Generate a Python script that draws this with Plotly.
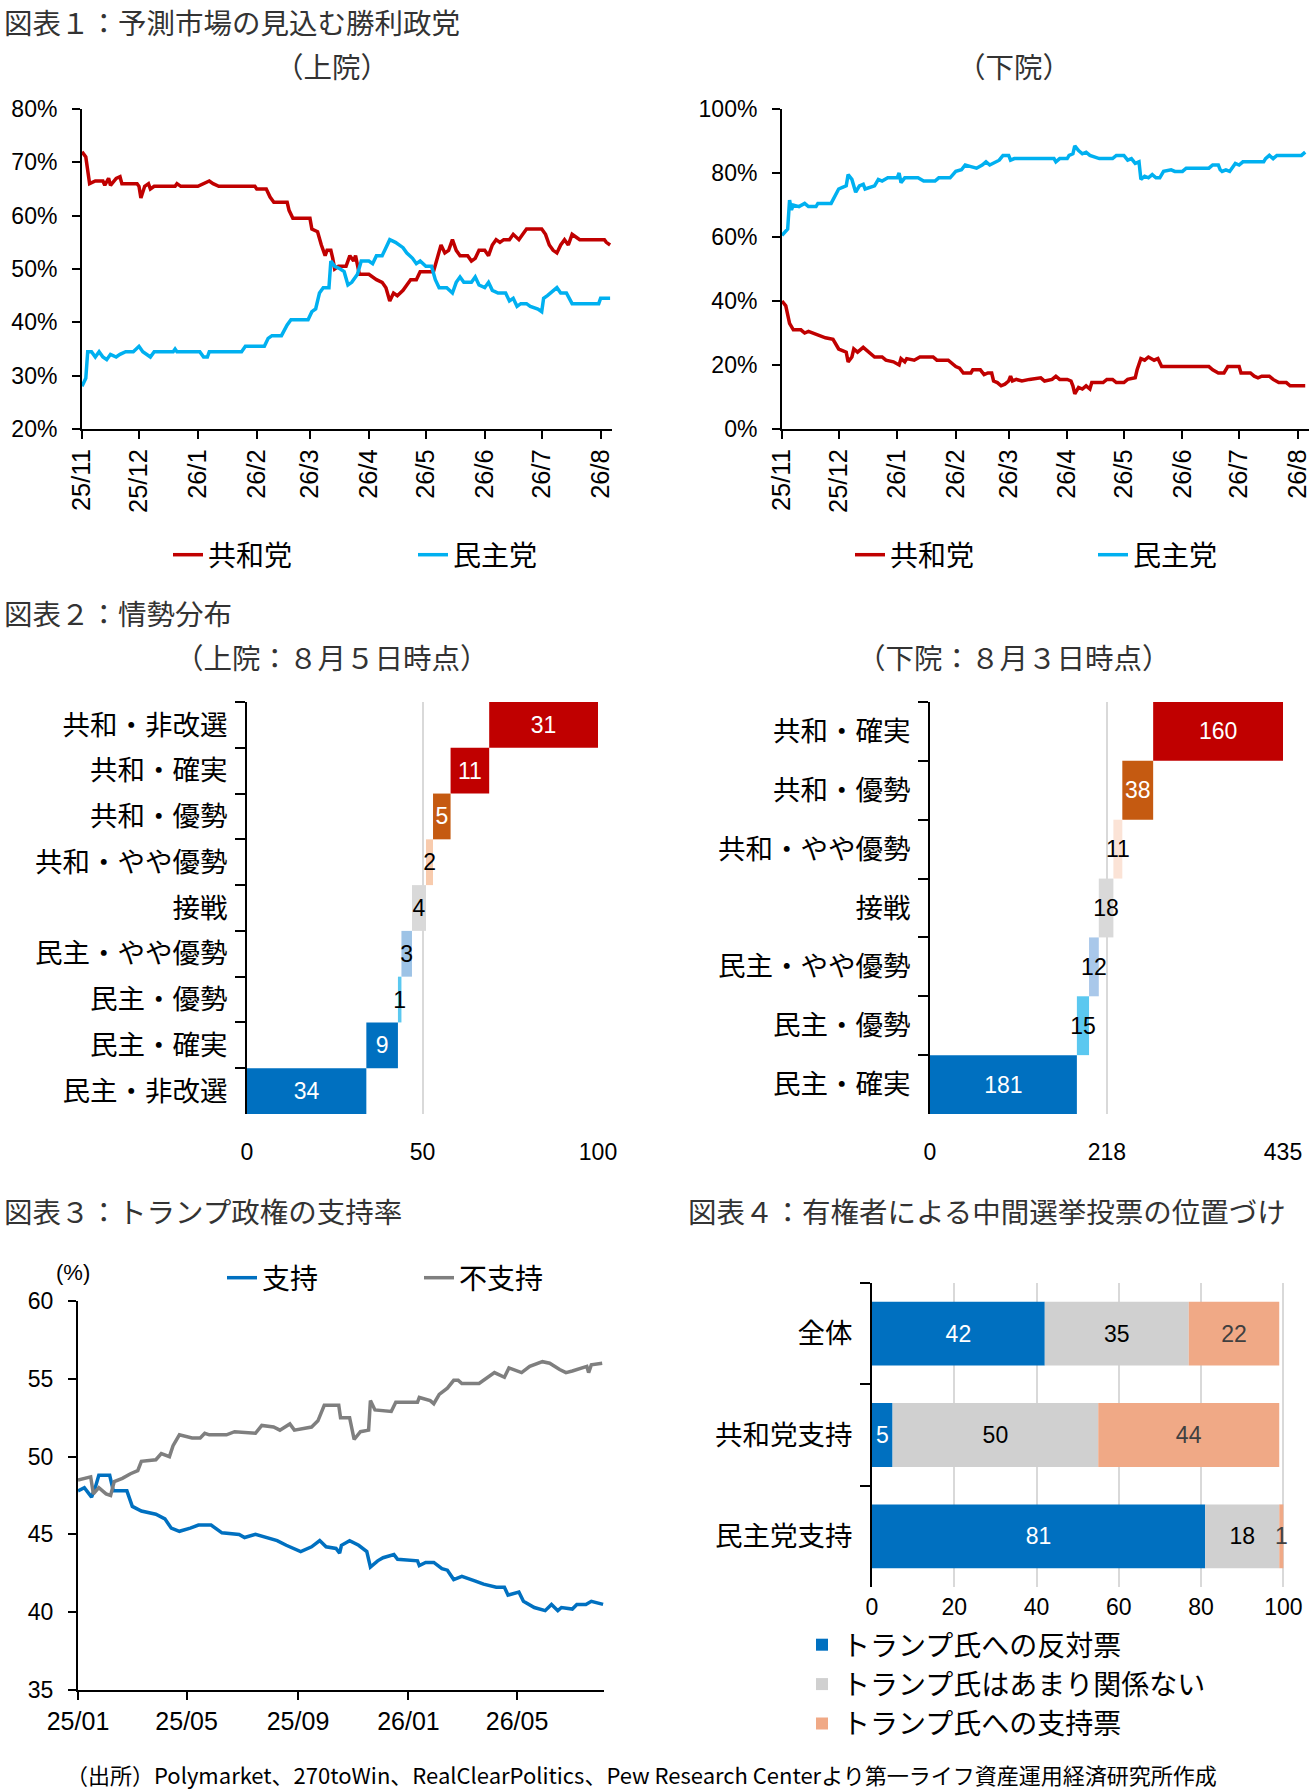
import numpy as np
import plotly.graph_objects as go

W, H = 1315, 1792

# ---------------- data ----------------
# chart 1 left : senate (prediction market, %)
senate_rep_dates = [
    "2025-11-01", "2025-11-02", "2025-11-03", "2025-11-05", "2025-11-08", "2025-11-12", "2025-11-13",
    "2025-11-15", "2025-11-16", "2025-11-19", "2025-11-21", "2025-11-22", "2025-11-30", "2025-12-01",
    "2025-12-02", "2025-12-04", "2025-12-06", "2025-12-07", "2025-12-09", "2025-12-20", "2025-12-21",
    "2025-12-23", "2026-01-01", "2026-01-07", "2026-01-09", "2026-01-12", "2026-01-31", "2026-02-01",
    "2026-02-06", "2026-02-08", "2026-02-10", "2026-02-17", "2026-02-18", "2026-02-20", "2026-03-01",
    "2026-03-02", "2026-03-05", "2026-03-07", "2026-03-09", "2026-03-10", "2026-03-12", "2026-03-13",
    "2026-03-14", "2026-03-16", "2026-03-20", "2026-03-22", "2026-03-24", "2026-03-25", "2026-03-27",
    "2026-04-01", "2026-04-05", "2026-04-08", "2026-04-10", "2026-04-12", "2026-04-14", "2026-04-16",
    "2026-04-19", "2026-04-21", "2026-04-23", "2026-04-26", "2026-04-28", "2026-05-05", "2026-05-07",
    "2026-05-09", "2026-05-11", "2026-05-13", "2026-05-15", "2026-05-17", "2026-05-19", "2026-05-23",
    "2026-05-25", "2026-05-27", "2026-05-29", "2026-06-01", "2026-06-03", "2026-06-05", "2026-06-07",
    "2026-06-09", "2026-06-11", "2026-06-14", "2026-06-16", "2026-06-19", "2026-06-21", "2026-06-23",
    "2026-06-29", "2026-07-01", "2026-07-03", "2026-07-05", "2026-07-07", "2026-07-09", "2026-07-11",
    "2026-07-13", "2026-07-15", "2026-07-17", "2026-07-19", "2026-07-21", "2026-08-03", "2026-08-04",
    "2026-08-06",
]
senate_rep = [
    72, 71.5, 71, 66, 66.5, 66.5, 65.7,
    67, 65.7, 67, 67.3, 66, 66, 65.5,
    63.3, 65.5, 66, 65, 65.5, 65.5, 66,
    65.5, 65.5, 66.5, 66, 65.5, 65.5, 65,
    65, 63.5, 62.5, 62.5, 61, 59.5, 59.5,
    57.5, 57, 54.5, 52.5, 53.5, 53.5, 52,
    50, 50.5, 50.5, 52.5, 51.5, 52.5, 49,
    49, 48, 47.5, 46.5, 44, 45.5, 45,
    46, 47, 48, 48, 49.5, 49.5, 52,
    54.5, 53, 53.5, 55.5, 53.5, 52.5, 52.5,
    51.5, 52, 53.5, 53.5, 52.5, 54.5, 55.5,
    55, 55.5, 55.5, 56.5, 55.5, 56.5, 57.5,
    57.5, 57.5, 56.5, 54.5, 53.5, 53, 54.5,
    55.5, 54.5, 56.5, 56, 55.5, 55.5, 55,
    54.5,
]
senate_dem_dates = [
    "2025-11-01", "2025-11-03", "2025-11-04", "2025-11-06", "2025-11-08", "2025-11-10", "2025-11-12",
    "2025-11-14", "2025-11-16", "2025-11-19", "2025-11-21", "2025-11-24", "2025-11-28", "2025-12-01",
    "2025-12-03", "2025-12-05", "2025-12-07", "2025-12-09", "2025-12-19", "2025-12-20", "2025-12-21",
    "2026-01-02", "2026-01-04", "2026-01-06", "2026-01-07", "2026-01-24", "2026-01-26", "2026-02-05",
    "2026-02-07", "2026-02-09", "2026-02-14", "2026-02-17", "2026-02-19", "2026-02-28", "2026-03-02",
    "2026-03-04", "2026-03-06", "2026-03-08", "2026-03-11", "2026-03-12", "2026-03-14", "2026-03-17",
    "2026-03-19", "2026-03-21", "2026-03-23", "2026-03-26", "2026-03-28", "2026-04-01", "2026-04-03",
    "2026-04-05", "2026-04-08", "2026-04-10", "2026-04-12", "2026-04-15", "2026-04-17", "2026-04-19",
    "2026-04-21", "2026-04-24", "2026-04-26", "2026-04-28", "2026-05-01", "2026-05-04", "2026-05-06",
    "2026-05-08", "2026-05-12", "2026-05-15", "2026-05-17", "2026-05-19", "2026-05-21", "2026-05-25",
    "2026-05-27", "2026-05-29", "2026-06-01", "2026-06-03", "2026-06-05", "2026-06-08", "2026-06-12",
    "2026-06-14", "2026-06-16", "2026-06-18", "2026-06-20", "2026-06-23", "2026-06-25", "2026-06-29",
    "2026-07-01", "2026-07-02", "2026-07-04", "2026-07-07", "2026-07-09", "2026-07-11", "2026-07-14",
    "2026-07-17", "2026-07-31", "2026-08-01", "2026-08-06",
]
senate_dem = [
    28, 29.5, 34.5, 34.5, 33.5, 34.5, 33.5,
    33, 34, 33.5, 34, 34.5, 34.5, 35.5,
    34.5, 34, 33.5, 34.5, 34.5, 35, 34.5,
    34.5, 33.5, 33.5, 34.5, 34.5, 35.5, 35.5,
    37, 37.5, 37.5, 39.5, 40.5, 40.5, 42,
    42.5, 45.5, 46.5, 46.5, 51.5, 50.5, 50,
    49.5, 47, 47.5, 49, 51.5, 51.5, 51,
    52.5, 52.5, 54, 55.5, 55, 54.5, 54,
    53, 52, 51, 51.5, 50.5, 50.5, 48,
    46.5, 46.5, 45.5, 47.5, 48.5, 47.5, 47.5,
    48.5, 47, 46.5, 47.5, 46, 45.5, 45.5,
    44, 44.5, 43, 43.5, 43.5, 43, 42.5,
    42, 44.5, 45, 46, 46.5, 45.5, 45.5,
    43.5, 43.5, 44.5, 44.5,
]

# chart 1 right : house (prediction market, %)
house_dem_dates = [
    "2025-11-01", "2025-11-03", "2025-11-04", "2025-11-05", "2025-11-06", "2025-11-07", "2025-11-10",
    "2025-11-13", "2025-11-15", "2025-11-19", "2025-11-20", "2025-11-27", "2025-11-29", "2025-12-01",
    "2025-12-03", "2025-12-05", "2025-12-06", "2025-12-08", "2025-12-10", "2025-12-12", "2025-12-14",
    "2025-12-15", "2025-12-20", "2025-12-22", "2025-12-24", "2025-12-27", "2026-01-01", "2026-01-02",
    "2026-01-03", "2026-01-05", "2026-01-12", "2026-01-15", "2026-01-21", "2026-01-23", "2026-01-29",
    "2026-02-01", "2026-02-04", "2026-02-06", "2026-02-09", "2026-02-12", "2026-02-15", "2026-02-17",
    "2026-02-19", "2026-02-22", "2026-02-24", "2026-02-26", "2026-03-01", "2026-03-02", "2026-03-04",
    "2026-03-25", "2026-03-26", "2026-03-28", "2026-04-01", "2026-04-02", "2026-04-04", "2026-04-05",
    "2026-04-07", "2026-04-09", "2026-04-11", "2026-04-13", "2026-04-16", "2026-04-18", "2026-04-25",
    "2026-04-27", "2026-05-01", "2026-05-03", "2026-05-05", "2026-05-07", "2026-05-09", "2026-05-10",
    "2026-05-12", "2026-05-14", "2026-05-16", "2026-05-18", "2026-05-20", "2026-05-22", "2026-05-26",
    "2026-05-28", "2026-06-01", "2026-06-03", "2026-06-15", "2026-06-17", "2026-06-20", "2026-06-21",
    "2026-06-22", "2026-06-24", "2026-06-26", "2026-06-29", "2026-07-01", "2026-07-03", "2026-07-14",
    "2026-07-15", "2026-07-17", "2026-07-19", "2026-07-21", "2026-08-03", "2026-08-05",
]
house_dem = [
    60.5, 62, 62.5, 71.5, 68.5, 70, 69.5,
    70.5, 69.5, 69.5, 70.5, 70.5, 72.5, 75,
    75.5, 76, 79.5, 78, 74, 76, 76.5,
    75, 76, 78, 77.5, 78.5, 78.5, 80,
    77, 78.5, 78.5, 77.5, 77.5, 78.5, 78.5,
    80.5, 81, 82.5, 82, 81.5, 82.5, 83.5,
    82.5, 83.5, 84, 85.5, 85.5, 84, 84.5,
    84.5, 83.5, 84.5, 84.5, 85.5, 86, 88.5,
    87, 86, 86.5, 85.5, 85, 84.5, 84.5,
    85.5, 85.5, 84, 84.5, 83, 83.5, 78,
    79, 78.5, 79.5, 78.5, 78.5, 80.5, 81,
    80.5, 80.5, 81.5, 81.5, 82.5, 82.5, 81,
    80.5, 81, 80.5, 83, 82.5, 83.5, 83.5,
    84.5, 85.5, 84.5, 85.5, 85.5, 86.5,
]
house_rep_dates = [
    "2025-11-01", "2025-11-03", "2025-11-05", "2025-11-07", "2025-11-11", "2025-11-13", "2025-11-15",
    "2025-11-17", "2025-11-20", "2025-11-24", "2025-11-28", "2025-12-01", "2025-12-03", "2025-12-05",
    "2025-12-06", "2025-12-08", "2025-12-09", "2025-12-11", "2025-12-14", "2025-12-16", "2025-12-18",
    "2025-12-20", "2025-12-24", "2025-12-26", "2025-12-30", "2026-01-01", "2026-01-02", "2026-01-03",
    "2026-01-05", "2026-01-06", "2026-01-10", "2026-01-13", "2026-01-20", "2026-01-22", "2026-01-28",
    "2026-02-01", "2026-02-03", "2026-02-05", "2026-02-09", "2026-02-10", "2026-02-14", "2026-02-16",
    "2026-02-18", "2026-02-20", "2026-02-21", "2026-02-23", "2026-02-25", "2026-02-27", "2026-03-01",
    "2026-03-02", "2026-03-03", "2026-03-05", "2026-03-08", "2026-03-12", "2026-03-18", "2026-03-20",
    "2026-03-24", "2026-03-26", "2026-03-28", "2026-04-01", "2026-04-03", "2026-04-04", "2026-04-05",
    "2026-04-07", "2026-04-09", "2026-04-11", "2026-04-13", "2026-04-14", "2026-04-20", "2026-04-22",
    "2026-04-25", "2026-04-27", "2026-05-01", "2026-05-03", "2026-05-07", "2026-05-08", "2026-05-10",
    "2026-05-12", "2026-05-14", "2026-05-17", "2026-05-19", "2026-05-21", "2026-06-15", "2026-06-17",
    "2026-06-20", "2026-06-23", "2026-06-25", "2026-07-01", "2026-07-02", "2026-07-07", "2026-07-09",
    "2026-07-11", "2026-07-13", "2026-07-17", "2026-07-19", "2026-07-22", "2026-07-26", "2026-07-28",
    "2026-08-05",
]
house_rep = [
    40, 38.5, 33, 31, 31, 30, 30.5,
    30, 29.5, 28.5, 28, 25, 24.5, 24,
    21, 22.5, 25, 24, 25.5, 24.5, 23.5,
    22.5, 22.5, 21.5, 21, 20.5, 20, 22,
    21, 22, 21.5, 22.5, 22.5, 21.5, 21.5,
    19.5, 19, 17.5, 17.5, 18.5, 18.5, 17,
    17.5, 17.5, 15, 14.5, 13.5, 14, 15,
    16.5, 15, 15.5, 15, 15.5, 16, 15,
    15.5, 16.5, 15.5, 15.5, 15, 13.5, 11,
    13, 12.5, 13.5, 12.5, 14.5, 14.5, 15.5,
    15.5, 14.5, 14.5, 15.5, 16, 18.5, 22,
    21.5, 22.5, 21.5, 22, 19.5, 19.5, 18.5,
    17.5, 17.5, 19.5, 19.5, 17.5, 17.5, 16.5,
    16, 16.5, 16.5, 15.5, 14.5, 14.5, 13.5,
    13.5,
]
market_ticks = ["2025-11-01", "2025-12-01", "2026-01-01", "2026-02-01", "2026-03-01",
                "2026-04-01", "2026-05-01", "2026-06-01", "2026-07-01", "2026-08-01"]
market_labels = ["25/11", "25/12", "26/1", "26/2", "26/3", "26/4", "26/5", "26/6", "26/7", "26/8"]

# chart 2 : race ratings (top to bottom)
senate_cats = ["共和・非改選", "共和・確実", "共和・優勢", "共和・やや優勢", "接戦",
               "民主・やや優勢", "民主・優勢", "民主・確実", "民主・非改選"]
senate_seats = [31, 11, 5, 2, 4, 3, 1, 9, 34]
house_cats = ["共和・確実", "共和・優勢", "共和・やや優勢", "接戦",
              "民主・やや優勢", "民主・優勢", "民主・確実"]
house_seats = [160, 38, 11, 18, 12, 15, 181]

# chart 3 : Trump approval (%)
approve_dates = [
    "2025-01-01", "2025-01-08", "2025-01-16", "2025-01-20", "2025-01-24", "2025-02-05", "2025-02-09",
    "2025-02-24", "2025-03-02", "2025-03-12", "2025-03-28", "2025-04-07", "2025-04-14", "2025-04-23",
    "2025-05-05", "2025-05-14", "2025-05-28", "2025-06-09", "2025-06-28", "2025-07-04", "2025-07-16",
    "2025-07-28", "2025-08-09", "2025-08-19", "2025-09-04", "2025-09-16", "2025-09-25", "2025-10-02",
    "2025-10-13", "2025-10-17", "2025-10-19", "2025-10-28", "2025-11-07", "2025-11-16", "2025-11-20",
    "2025-11-28", "2025-12-04", "2025-12-16", "2025-12-20", "2026-01-11", "2026-01-13", "2026-01-20",
    "2026-01-29", "2026-02-07", "2026-02-13", "2026-02-20", "2026-03-01", "2026-03-16", "2026-03-25",
    "2026-04-08", "2026-04-17", "2026-04-21", "2026-05-03", "2026-05-08", "2026-05-20", "2026-06-01",
    "2026-06-08", "2026-06-15", "2026-06-19", "2026-07-01", "2026-07-06", "2026-07-16", "2026-07-22",
    "2026-08-04",
]
approve = [
    47.8, 48.0, 47.4, 48.0, 48.8, 48.8, 47.8,
    47.8, 46.8, 46.5, 46.3, 46.0, 45.4, 45.2,
    45.4, 45.6, 45.6, 45.1, 45.0, 44.8, 45.0,
    44.8, 44.6, 44.3, 43.9, 44.2, 44.6, 44.2,
    44.1, 43.8, 44.3, 44.6, 44.3, 43.9, 42.9,
    43.3, 43.5, 43.7, 43.4, 43.3, 43.0, 43.2,
    43.2, 42.8, 42.7, 42.1, 42.3, 42.0, 41.8,
    41.6, 41.6, 41.1, 41.3, 40.7, 40.3, 40.1,
    40.5, 40.1, 40.3, 40.2, 40.5, 40.5, 40.7,
    40.5,
]
disapprove_dates = [
    "2025-01-01", "2025-01-15", "2025-01-18", "2025-01-24", "2025-02-01", "2025-02-06", "2025-02-10",
    "2025-02-19", "2025-02-28", "2025-03-08", "2025-03-12", "2025-03-28", "2025-04-03", "2025-04-12",
    "2025-04-16", "2025-04-23", "2025-05-07", "2025-05-16", "2025-05-21", "2025-05-26", "2025-06-14",
    "2025-06-23", "2025-07-16", "2025-07-23", "2025-08-05", "2025-08-12", "2025-08-23", "2025-08-28",
    "2025-09-16", "2025-09-23", "2025-09-30", "2025-10-16", "2025-10-18", "2025-10-28", "2025-11-02",
    "2025-11-09", "2025-11-18", "2025-11-20", "2025-11-25", "2025-12-13", "2025-12-18", "2026-01-11",
    "2026-01-13", "2026-01-25", "2026-01-29", "2026-02-04", "2026-02-13", "2026-02-20", "2026-02-25",
    "2026-03-01", "2026-03-20", "2026-03-29", "2026-04-06", "2026-04-17", "2026-04-22", "2026-05-06",
    "2026-05-15", "2026-05-29", "2026-06-06", "2026-06-17", "2026-06-24", "2026-07-01", "2026-07-10",
    "2026-07-17", "2026-07-19", "2026-07-22", "2026-08-03",
]
disapprove = [
    48.5, 48.7, 47.6, 48.0, 47.6, 47.5, 48.4,
    48.6, 48.9, 49.1, 49.7, 49.8, 50.2, 50.0,
    50.7, 51.4, 51.2, 51.2, 51.5, 51.4, 51.4,
    51.6, 51.5, 52.0, 51.9, 51.7, 52.1, 51.7,
    51.9, 52.3, 53.3, 53.3, 52.5, 52.5, 51.1,
    51.6, 51.7, 53.6, 53.0, 52.9, 53.5, 53.5,
    53.8, 53.6, 53.4, 54.0, 54.4, 54.9, 54.9,
    54.7, 54.7, 55.1, 55.4, 55.1, 55.7, 55.4,
    55.8, 56.1, 56.0, 55.6, 55.4, 55.5, 55.7,
    55.8, 55.4, 55.9, 56.0,
]
approval_ticks = ["2025-01-01", "2025-05-01", "2025-09-01", "2026-01-01", "2026-05-01"]
approval_labels = ["25/01", "25/05", "25/09", "26/01", "26/05"]

# chart 4 : midterm vote and Trump (%)
vote_groups = ["全体", "共和党支持", "民主党支持"]
vote_against = [42, 5, 81]
vote_neutral = [35, 50, 18]
vote_for = [22, 44, 1]

# ---------------- style ----------------
RED, CYAN = "#C00000", "#00B0F0"
BLUE, GRAY = "#0070C0", "#7F7F7F"
SANS = "Liberation Sans, Arial, Noto Sans CJK JP"
JP = "Noto Sans CJK JP"
LW = 3.5

senate_colors = ["#C00000", "#C00000", "#C55A11", "#F8CBAD", "#D9D9D9",
                 "#9DC3E6", "#5BC8F0", "#0070C0", "#0070C0"]
senate_text = ["white", "white", "white", "black", "black", "black", "black", "white", "white"]
house_colors = ["#C00000", "#C55A11", "#FBE3D6", "#D9D9D9", "#A9C8EA", "#5BC8F0", "#0070C0"]
house_text = ["white", "white", "black", "black", "black", "black", "white"]


def dx(a, b):
    return [a / W, b / W]


def dy(top, bottom):
    return [1 - bottom / H, 1 - top / H]


fig = go.Figure()

# chart 1
fig.add_trace(go.Scatter(x=senate_rep_dates, y=senate_rep, mode="lines", name="共和党",
                         line=dict(color=RED, width=LW), xaxis="x", yaxis="y", legend="legend"))
fig.add_trace(go.Scatter(x=senate_dem_dates, y=senate_dem, mode="lines", name="民主党",
                         line=dict(color=CYAN, width=LW), xaxis="x", yaxis="y", legend="legend"))
fig.add_trace(go.Scatter(x=house_rep_dates, y=house_rep, mode="lines", name="共和党",
                         line=dict(color=RED, width=LW), xaxis="x2", yaxis="y2", legend="legend2"))
fig.add_trace(go.Scatter(x=house_dem_dates, y=house_dem, mode="lines", name="民主党",
                         line=dict(color=CYAN, width=LW), xaxis="x2", yaxis="y2", legend="legend2"))


# chart 2 (waterfall built from bars with a base)
def waterfall(cats, seats, colors, tcolors, xa, ya):
    s = np.array(seats)
    base = np.concatenate(([0], np.cumsum(s[::-1])[:-1]))[::-1]
    fig.add_trace(go.Bar(y=cats, x=seats, base=base, orientation="h", width=1.0,
                         marker=dict(color=colors, line=dict(width=0)),
                         text=[str(v) for v in seats], textposition="inside",
                         insidetextanchor="middle", textangle=0,
                         textfont=dict(color=tcolors, size=23, family=SANS),
                         cliponaxis=False, showlegend=False, xaxis=xa, yaxis=ya))


waterfall(senate_cats, senate_seats, senate_colors, senate_text, "x3", "y3")
waterfall(house_cats, house_seats, house_colors, house_text, "x4", "y4")

# chart 3
fig.add_trace(go.Scatter(x=approve_dates, y=approve, mode="lines", name="支持",
                         line=dict(color=BLUE, width=LW), xaxis="x5", yaxis="y5", legend="legend3"))
fig.add_trace(go.Scatter(x=disapprove_dates, y=disapprove, mode="lines", name="不支持",
                         line=dict(color=GRAY, width=LW), xaxis="x5", yaxis="y5", legend="legend3"))

# chart 4 (stacked bars)
b1 = np.array(vote_against)
b2 = b1 + np.array(vote_neutral)
for vals, base, name, col, tc in [
    (vote_against, np.zeros(3), "トランプ氏への反対票", "#0070C0", "white"),
    (vote_neutral, b1, "トランプ氏はあまり関係ない", "#D0D0D0", "black"),
    (vote_for, b2, "トランプ氏への支持票", "#F0A986", "#404040"),
]:
    fig.add_trace(go.Bar(y=vote_groups, x=vals, base=base, orientation="h", width=0.63, name=name,
                         marker=dict(color=col, line=dict(width=0)),
                         text=[str(v) for v in vals], textposition="inside",
                         insidetextanchor="middle", textangle=0,
                         textfont=dict(color=tc, size=23, family=SANS),
                         cliponaxis=False, xaxis="x6", yaxis="y6", legend="legend4"))

axis_base = dict(showline=True, linecolor="black", linewidth=2, ticks="outside", ticklen=8,
                 tickwidth=2, tickcolor="black", showgrid=False, zeroline=False, automargin=False,
                 tickfont=dict(family=SANS, size=23, color="black"))
yaxis_base = dict(axis_base, ticklabelstandoff=10)
cat_base = dict(axis_base, type="category", categoryorder="array", autorange="reversed",
                tickson="boundaries", ticklen=10, ticklabelstandoff=12,
                tickfont=dict(family=JP, size=27.5, color="black"))
grid_x = dict(showgrid=True, gridcolor="#D9D9D9", gridwidth=2, zeroline=False, showline=False,
              automargin=False, ticks="", tickfont=dict(family=SANS, size=23, color="black"))
leg_base = dict(font=dict(family=JP, size=28, color="black"), bgcolor="rgba(0,0,0,0)")

fig.update_layout(
    width=W, height=H, margin=dict(l=0, r=0, t=0, b=0, autoexpand=False),
    paper_bgcolor="white", plot_bgcolor="white",
    font=dict(family=SANS, color="black"),
    barmode="overlay",
    uniformtext=dict(minsize=23, mode="show"),
    # chart 1 left
    xaxis=dict(axis_base, domain=dx(82, 612), anchor="y", type="date",
               range=["2025-11-01", "2026-08-07"], tickvals=market_ticks, ticktext=market_labels,
               tickangle=-90, tickfont=dict(family=SANS, size=25.5)),
    yaxis=dict(yaxis_base, domain=dy(109, 429), anchor="x", range=[20, 80], dtick=10, ticksuffix="%"),
    # chart 1 right
    xaxis2=dict(axis_base, domain=dx(782, 1309), anchor="y2", type="date",
                range=["2025-11-01", "2026-08-07"], tickvals=market_ticks, ticktext=market_labels,
                tickangle=-90, tickfont=dict(family=SANS, size=25.5)),
    yaxis2=dict(yaxis_base, domain=dy(109, 429), anchor="x2", range=[0, 100], dtick=20, ticksuffix="%"),
    # chart 2 left
    xaxis3=dict(grid_x, domain=dx(247, 598), anchor="y3", range=[0, 100], tickvals=[0, 50, 100],
                ticklabelstandoff=22),
    yaxis3=dict(cat_base, domain=dy(702, 1114), anchor="x3", categoryarray=senate_cats),
    # chart 2 right
    xaxis4=dict(grid_x, domain=dx(930, 1283), anchor="y4", range=[0, 435], tickvals=[0, 218, 435],
                ticklabelstandoff=22),
    yaxis4=dict(cat_base, domain=dy(702, 1114), anchor="x4", categoryarray=house_cats),
    # chart 3
    xaxis5=dict(axis_base, domain=dx(78, 604), anchor="y5", type="date",
                range=["2025-01-01", "2026-08-05"], tickvals=approval_ticks, ticktext=approval_labels,
                tickangle=0, tickfont=dict(family=SANS, size=25)),
    yaxis5=dict(yaxis_base, domain=dy(1301, 1690), anchor="x5", range=[35, 60], dtick=5),
    # chart 4
    xaxis6=dict(grid_x, domain=dx(872, 1285), anchor="y6", range=[0, 100.4],
                tickvals=[0, 20, 40, 60, 80, 100], ticklabelstandoff=4),
    yaxis6=dict(cat_base, domain=dy(1283, 1587), anchor="x6", categoryarray=vote_groups),
    legend=dict(leg_base, orientation="h", x=168 / W, xanchor="left", y=1 - 555 / H, yanchor="middle",
                entrywidth=200, entrywidthmode="pixels"),
    legend2=dict(leg_base, orientation="h", x=850 / W, xanchor="left", y=1 - 555 / H, yanchor="middle",
                 entrywidth=198, entrywidthmode="pixels"),
    legend3=dict(leg_base, orientation="h", x=222 / W, xanchor="left", y=1 - 1278 / H, yanchor="middle",
                 entrywidth=152, entrywidthmode="pixels"),
    legend4=dict(leg_base, orientation="v", x=802 / W, xanchor="left", y=1 - 1620 / H, yanchor="top"),
)

titles = [
    ("図表１：予測市場の見込む勝利政党", 2, 21, "left"),
    ("（上院）", 332, 66, "center"),
    ("（下院）", 1014, 66, "center"),
    ("図表２：情勢分布", 2, 612, "left"),
    ("（上院：８月５日時点）", 332, 656, "center"),
    ("（下院：８月３日時点）", 1014, 656, "center"),
    ("図表３：トランプ政権の支持率", 2, 1210, "left"),
    ("図表４：有権者による中間選挙投票の位置づけ", 686, 1210, "left"),
]
for txt, x, y, anc in titles:
    fig.add_annotation(text=txt, x=x / W, y=1 - y / H, xref="paper", yref="paper",
                       xanchor=anc, yanchor="middle", showarrow=False,
                       font=dict(family=JP, size=28.5, color="#333333"))

fig.add_annotation(text="(%)", x=73 / W, y=1 - 1272 / H, xref="paper", yref="paper",
                   xanchor="center", yanchor="middle", showarrow=False,
                   font=dict(family=SANS, size=22, color="black"))
fig.add_annotation(text="（出所）Polymarket、270toWin、RealClearPolitics、Pew Research Centerより第一ライフ資産運用経済研究所作成",
                   x=64 / W, y=1 - 1774 / H, xref="paper", yref="paper",
                   xanchor="left", yanchor="middle", showarrow=False,
                   font=dict(family=JP, size=22, color="black"))

fig.write_html("out.html", config={"displayModeBar": False},
               post_script="document.body.style.margin='0px';")
